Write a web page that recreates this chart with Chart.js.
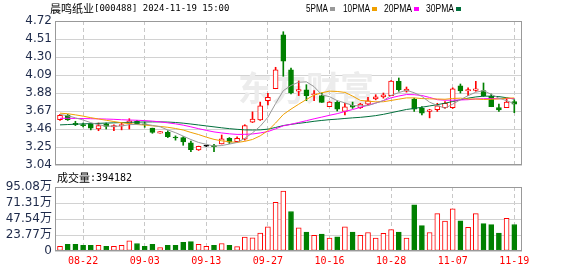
<!DOCTYPE html>
<html>
<head>
<meta charset="utf-8">
<script src="https://cdn.jsdelivr.net/npm/chart.js@4.4.1/dist/chart.umd.min.js"></script>
<style>
  html, body { margin: 0; padding: 0; background: #fff; }
  #wrap { position: relative; width: 578px; height: 276px; overflow: hidden; }
  #kline { position: absolute; left: 0; top: 0; }
  #vol { position: absolute; left: 0; top: 170px; }
</style>
</head>
<body>
<div id="wrap">
  <canvas id="kline" width="578" height="176"></canvas>
  <canvas id="vol" width="578" height="106"></canvas>
</div>
<script>
// 交易日
const dates = ['08-19','08-20','08-21','08-22','08-23','08-26','08-27','08-28','08-29','08-30',
  '09-02','09-03','09-04','09-05','09-06','09-09','09-10','09-11','09-12','09-13',
  '09-18','09-19','09-20','09-23','09-24','09-25','09-26','09-27','09-30','10-08',
  '10-09','10-10','10-11','10-14','10-15','10-16','10-17','10-18','10-21','10-22',
  '10-23','10-24','10-25','10-28','10-29','10-30','10-31','11-01','11-04','11-05',
  '11-06','11-07','11-08','11-11','11-12','11-13','11-14','11-15','11-18','11-19'];

// K线 (开 高 低 收)
const openP = [3.57,3.62,3.525,3.51,3.52,3.46,3.52,3.485,3.50,3.525,
  3.55,3.52,3.47,3.41,3.42,3.36,3.36,3.30,3.215,3.26,
  3.26,3.285,3.352,3.313,3.34,3.54,3.567,3.79,3.93,4.56,
  4.15,3.90,3.918,3.86,3.85,3.72,3.77,3.665,3.735,3.71,
  3.75,3.81,3.835,3.85,4.015,3.90,3.81,3.70,3.665,3.685,
  3.71,3.71,3.965,3.905,3.91,3.907,3.84,3.711,3.71,3.78];
const highP = [3.63,3.63,3.55,3.53,3.52,3.53,3.53,3.51,3.53,3.58,
  3.56,3.54,3.47,3.43,3.44,3.38,3.37,3.32,3.26,3.27,
  3.28,3.39,3.36,3.37,3.51,3.66,3.774,3.875,4.18,4.595,
  4.17,4.02,3.977,3.907,3.88,3.78,3.79,3.76,3.774,3.76,
  3.83,3.86,3.88,4.025,4.055,3.95,3.82,3.723,3.69,3.76,
  3.78,3.94,3.985,3.94,4.016,3.997,3.868,3.75,3.82,3.80];
const lowP = [3.56,3.56,3.50,3.485,3.45,3.44,3.46,3.44,3.45,3.46,
  3.51,3.48,3.41,3.41,3.36,3.33,3.27,3.195,3.21,3.255,
  3.195,3.285,3.29,3.305,3.33,3.535,3.56,3.742,3.93,4.075,
  3.87,3.85,3.79,3.79,3.77,3.72,3.67,3.625,3.70,3.70,
  3.74,3.80,3.82,3.85,3.90,3.89,3.665,3.625,3.59,3.665,
  3.70,3.70,3.88,3.85,3.90,3.84,3.72,3.665,3.71,3.65];
const closeP = [3.62,3.57,3.51,3.50,3.47,3.50,3.49,3.50,3.51,3.555,
  3.515,3.51,3.42,3.43,3.37,3.355,3.31,3.22,3.258,3.26,
  3.255,3.344,3.305,3.352,3.50,3.575,3.73,3.83,4.15,4.25,
  3.88,3.92,3.85,3.87,3.77,3.775,3.69,3.72,3.715,3.75,
  3.79,3.836,3.86,4.02,3.92,3.925,3.69,3.645,3.685,3.73,
  3.76,3.93,3.905,3.92,3.93,3.848,3.72,3.684,3.775,3.75];

// 均线
const ma5 = [3.63,3.615,3.59,3.565,3.534,3.51,3.494,3.492,3.494,3.511,
  3.514,3.518,3.502,3.486,3.449,3.417,3.377,3.337,3.303,3.281,
  3.261,3.267,3.284,3.303,3.351,3.415,3.492,3.597,3.757,3.907,
  3.968,4.006,4.01,3.954,3.858,3.837,3.791,3.765,3.734,3.73,
  3.733,3.762,3.791,3.851,3.885,3.912,3.883,3.84,3.773,3.735,
  3.702,3.75,3.802,3.849,3.889,3.907,3.865,3.82,3.791,3.755];
const ma10 = [3.645,3.638,3.625,3.61,3.592,3.577,3.562,3.547,3.533,3.523,
  3.512,3.506,3.497,3.49,3.48,3.466,3.448,3.42,3.395,3.365,
  3.339,3.322,3.311,3.303,3.316,3.338,3.38,3.441,3.53,3.629,
  3.692,3.749,3.804,3.856,3.883,3.902,3.898,3.887,3.844,3.794,
  3.785,3.777,3.778,3.793,3.808,3.823,3.823,3.815,3.812,3.81,
  3.807,3.816,3.82,3.81,3.81,3.804,3.807,3.811,3.82,3.822];
const ma20 = [3.585,3.585,3.583,3.582,3.58,3.578,3.576,3.573,3.568,3.565,
  3.562,3.558,3.552,3.543,3.532,3.52,3.505,3.485,3.464,3.444,
  3.426,3.414,3.404,3.397,3.398,3.402,3.414,3.43,3.462,3.497,
  3.515,3.536,3.557,3.579,3.599,3.62,3.639,3.664,3.687,3.712,
  3.738,3.763,3.791,3.824,3.845,3.862,3.86,3.851,3.828,3.802,
  3.796,3.796,3.799,3.802,3.81,3.813,3.815,3.813,3.816,3.816];
const ma30 = [3.508,3.512,3.516,3.52,3.523,3.526,3.529,3.532,3.535,3.538,
  3.54,3.542,3.543,3.543,3.541,3.536,3.528,3.518,3.507,3.496,
  3.485,3.474,3.464,3.456,3.45,3.448,3.45,3.458,3.478,3.50,
  3.514,3.526,3.537,3.55,3.56,3.569,3.575,3.583,3.59,3.596,
  3.605,3.616,3.631,3.65,3.669,3.688,3.70,3.714,3.729,3.744,
  3.761,3.781,3.801,3.82,3.834,3.843,3.843,3.838,3.825,3.809];

// 成交量 (万手)
const volumes = [7,9.8,9.8,8.4,8.4,8.4,7,7,8.4,15,
  11.2,7,9.8,5,8.4,8.4,13,14,9.8,7,
  8.4,11.2,8.4,6.5,20.5,19.6,26.6,35.9,72.3,89,
  58.7,34.5,28,23.3,25.2,19.1,21,35.9,28,23.3,
  27.5,19.1,26.1,31.7,28,19.1,68.5,37.8,27.5,55.5,
  44.3,62.5,44.8,35,55.5,40.6,39.2,26.6,48.5,39.4182];

const priceTicks = [3.04, 3.25, 3.46, 3.67, 3.88, 4.09, 4.30, 4.51, 4.72];
const volTicks = [0, 23.77, 47.54, 71.31, 95.08];
const labelIdx = [3, 11, 19, 27, 35, 43, 51, 59];

const RED = '#ff0000';
const GREEN = '#008000';
const AXIS_TEXT = '#1e2a4a';
const GRID = '#d2d2d2';
const BORDER = '#999999';

function candleColor(i) {
  if (closeP[i] > openP[i]) return RED;
  if (closeP[i] < openP[i]) return GREEN;
  return '#000000';
}
function volUp(i) {
  return i === 0 ? closeP[0] >= openP[0] : closeP[i] >= closeP[i - 1];
}

function xAxis(showLabels) {
  return {
    type: 'linear',
    min: -0.65,
    max: 60,
    offset: false,
    afterBuildTicks: function(s) { s.ticks = labelIdx.map(v => ({ value: v })); },
    grid: { color: '#c8c8c8', drawTicks: false, offset: false },
    border: { display: false, dash: [4, 3] },
    ticks: {
      display: showLabels,
      autoSkip: false,
      maxRotation: 0,
      padding: 4,
      color: RED,
      font: { family: 'DejaVu Sans Mono', size: 10 },
      callback: function(v) { return dates[v]; }
    }
  };
}

function boxBorder(chart) {
  const a = chart.chartArea;
  const ctx = chart.ctx;
  ctx.save();
  ctx.strokeStyle = BORDER;
  ctx.lineWidth = 1;
  ctx.strokeRect(Math.round(a.left) + 0.5, Math.round(a.top) + 0.5,
    Math.round(a.right - a.left) - 1, Math.round(a.bottom - a.top) - 1);
  ctx.restore();
}

const klineDecor = {
  id: 'klineDecor',
  beforeDatasetsDraw: function(chart) {
    const ctx = chart.ctx;
    ctx.save();
    ctx.font = 'bold 34px "Noto Sans CJK SC"';
    ctx.fillStyle = '#ececec';
    ctx.textBaseline = 'middle';
    ctx.fillText('东方财富', 238, 88);
    ctx.restore();
  },
  afterDraw: function(chart) {
    boxBorder(chart);
    const ctx = chart.ctx;
    ctx.save();
    ctx.textBaseline = 'middle';
    ctx.fillStyle = '#000';
    ctx.font = '11px "Noto Sans CJK SC"';
    ctx.fillText('晨鸣纸业', 50, 9);
    const w = ctx.measureText('晨鸣纸业').width;
    ctx.font = '9px "DejaVu Sans Mono"';
    ctx.fillText('[000488] 2024-11-19 15:00', 50 + w, 9);

    // 均线图例
    const items = [
      { t: '5PMA', c: '#999999', x: 306, w: 22 },
      { t: '10PMA', c: '#f0a000', x: 343, w: 27 },
      { t: '20PMA', c: '#ff00ff', x: 384, w: 28 },
      { t: '30PMA', c: '#006f3c', x: 426, w: 28 }
    ];
    ctx.font = '11px "Liberation Sans"';
    items.forEach(it => {
      ctx.fillStyle = '#000';
      ctx.fillText(it.t, it.x, 9, it.w);
      ctx.fillStyle = it.c;
      ctx.fillRect(it.x + it.w + 2, 7, 5, 4);
    });
    ctx.restore();
  }
};

const volDecor = {
  id: 'volDecor',
  afterDraw: function(chart) {
    boxBorder(chart);
    const ctx = chart.ctx;
    ctx.save();
    ctx.textBaseline = 'middle';
    ctx.fillStyle = '#000';
    ctx.font = '11px "Noto Sans CJK SC"';
    ctx.fillText('成交量', 57, 8);
    const w = ctx.measureText('成交量').width;
    ctx.font = '10px "DejaVu Sans Mono"';
    ctx.fillText(':' + Math.round(volumes[volumes.length - 1] * 10000), 57 + w, 8);
    ctx.restore();
  }
};

const idx = dates.map((d, i) => i);

new Chart(document.getElementById('kline'), {
  type: 'bar',
  data: {
    datasets: [
      {
        label: 'wick',
        data: idx.map(i => ({ x: i, y: [lowP[i], highP[i]] })),
        backgroundColor: idx.map(candleColor),
        borderWidth: 0,
        barThickness: 1,
        grouped: false,
        order: 3
      },
      {
        label: 'body',
        data: idx.map(i => ({ x: i, y: [openP[i], closeP[i]] })),
        backgroundColor: idx.map(i => closeP[i] > openP[i] ? '#ffffff' : candleColor(i)),
        borderColor: idx.map(candleColor),
        borderWidth: 1,
        borderSkipped: false,
        barThickness: 5,
        minBarLength: 1,
        grouped: false,
        order: 2
      },
      { type: 'line', label: 'MA5', data: idx.map(i => ({ x: i, y: ma5[i] })), borderColor: '#999999', borderWidth: 1, pointRadius: 0, tension: 0, order: 1 },
      { type: 'line', label: 'MA10', data: idx.map(i => ({ x: i, y: ma10[i] })), borderColor: '#f0a000', borderWidth: 1, pointRadius: 0, tension: 0, order: 1 },
      { type: 'line', label: 'MA20', data: idx.map(i => ({ x: i, y: ma20[i] })), borderColor: '#ff00ff', borderWidth: 1, pointRadius: 0, tension: 0, order: 1 },
      { type: 'line', label: 'MA30', data: idx.map(i => ({ x: i, y: ma30[i] })), borderColor: '#006f3c', borderWidth: 1, pointRadius: 0, tension: 0, order: 1 }
    ]
  },
  options: {
    responsive: false,
    animation: false,
    events: [],
    layout: { padding: { left: 0, right: 56, top: 21, bottom: 11 } },
    plugins: { legend: { display: false }, tooltip: { enabled: false } },
    scales: {
      x: xAxis(false),
      y: {
        min: 3.04,
        max: 4.72,
        afterBuildTicks: function(s) { s.ticks = priceTicks.map(v => ({ value: v })); },
        afterFit: function(s) { s.width = 55; s.paddingTop = 0; s.paddingBottom = 0; },
        grid: { color: GRID, drawTicks: false },
        border: { display: false },
        ticks: {
          autoSkip: false,
          padding: 3,
          color: AXIS_TEXT,
          font: { family: 'DejaVu Sans', size: 12 },
          callback: function(v) { return v.toFixed(2); }
        }
      }
    }
  },
  plugins: [klineDecor]
});

new Chart(document.getElementById('vol'), {
  type: 'bar',
  data: {
    datasets: [{
      label: '成交量',
      data: idx.map(i => ({ x: i, y: volumes[i] })),
      backgroundColor: idx.map(i => volUp(i) ? '#ffffff' : GREEN),
      borderColor: idx.map(i => volUp(i) ? RED : GREEN),
      borderWidth: 1,
      borderSkipped: false,
      barThickness: 5
    }]
  },
  options: {
    responsive: false,
    animation: false,
    events: [],
    layout: { padding: { left: 0, right: 56, top: 17, bottom: 5 } },
    plugins: { legend: { display: false }, tooltip: { enabled: false } },
    scales: {
      x: xAxis(true),
      y: {
        min: 0,
        max: 95.08,
        afterBuildTicks: function(s) { s.ticks = volTicks.map(v => ({ value: v })); },
        afterFit: function(s) { s.width = 55; s.paddingTop = 0; s.paddingBottom = 0; },
        grid: { color: GRID, drawTicks: false },
        border: { display: false },
        ticks: {
          autoSkip: false,
          padding: 3,
          color: AXIS_TEXT,
          font: { family: '"DejaVu Sans", "Noto Sans CJK SC"', size: 12 },
          callback: function(v) { return v === 0 ? '0' : v.toFixed(2) + '万'; }
        }
      }
    }
  },
  plugins: [volDecor]
});
</script>
</body>
</html>
